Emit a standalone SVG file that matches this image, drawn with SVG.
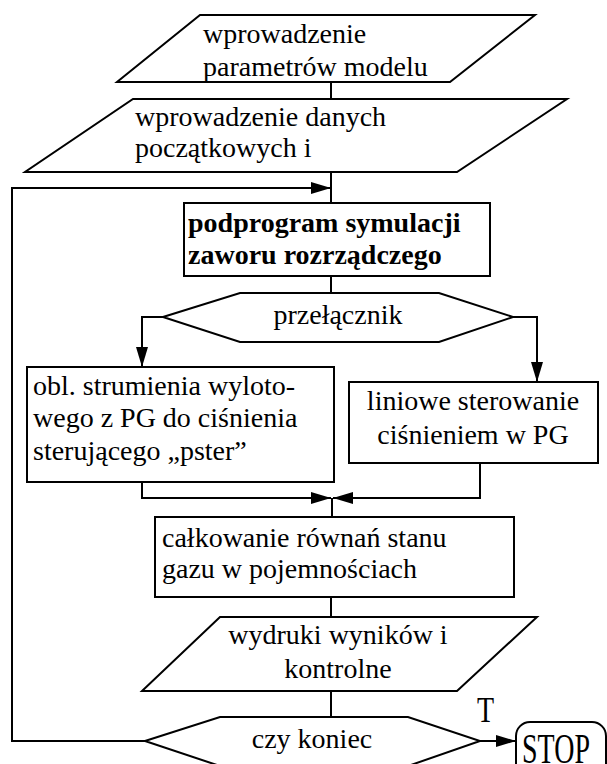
<svg xmlns="http://www.w3.org/2000/svg" width="607" height="764" viewBox="0 0 607 764">
<style>
.s{fill:#fff;stroke:#000;stroke-width:2}
.c{fill:none;stroke:#000;stroke-width:2}
text{font-family:"Liberation Serif","Times New Roman",serif;font-size:28px;fill:#000}
.b{font-weight:bold}
.m{text-anchor:middle}
</style>
<defs>
<marker id="ah" markerUnits="userSpaceOnUse" markerWidth="21" markerHeight="12" refX="20" refY="6" orient="auto">
<path d="M0,0 L20,6 L0,12 z" fill="#000"/>
</marker>
</defs>
<rect width="607" height="764" fill="#fff"/>
<g id="connectors">
<path class="c" d="M331,82 V99"/>
<path class="c" d="M331,172 V203"/>
<path class="c" d="M145,741 H12 V188 H331" marker-end="url(#ah)"/>
<path class="c" d="M331,276 V293"/>
<path class="c" d="M163,317 H142 V367" marker-end="url(#ah)"/>
<path class="c" d="M513,317 H537 V382" marker-end="url(#ah)"/>
<path class="c" d="M142,482 V498 H331" marker-end="url(#ah)"/>
<path class="c" d="M480,463 V498 H333" marker-end="url(#ah)"/>
<path class="c" d="M332,498 V517"/>
<path class="c" d="M331,597 V617"/>
<path class="c" d="M331,691 V717"/>
<path class="c" d="M480,741 H516" marker-end="url(#ah)"/>
</g>
<g id="n1">
<polygon class="s" points="200,15 535,15 450,82 117,82"/>
<text x="203" y="43">wprowadzenie</text>
<text x="203" y="76">parametrów modelu</text>
</g>
<g id="n2">
<polygon class="s" points="133,99 567,99 457,172 25,172"/>
<text x="135" y="126">wprowadzenie danych</text>
<text x="135" y="157">początkowych i</text>
</g>
<g id="n3">
<rect class="s" x="184" y="203" width="306" height="73"/>
<text class="b" x="188" y="232">podprogram symulacji</text>
<text class="b" x="188" y="264">zaworu rozrządczego</text>
</g>
<g id="n4">
<polygon class="s" points="163,317 240,293 439,293 513,317 439,342 240,342"/>
<text class="m" x="338" y="324">przełącznik</text>
</g>
<g id="n5">
<rect class="s" x="27" y="367" width="307" height="115"/>
<text x="33" y="395">obl. strumienia wyloto-</text>
<text x="33" y="427">wego z PG do ciśnienia</text>
<text x="33" y="460">sterującego „pster”</text>
</g>
<g id="n6">
<rect class="s" x="349" y="382" width="249" height="81"/>
<text class="m" x="473" y="410">liniowe sterowanie</text>
<text class="m" x="473" y="444">ciśnieniem w PG</text>
</g>
<g id="n7">
<rect class="s" x="155" y="517" width="359" height="80"/>
<text x="162" y="547">całkowanie równań stanu</text>
<text x="162" y="578">gazu w pojemnościach</text>
</g>
<g id="n8">
<polygon class="s" points="220,617 537,617 457,691 142,691"/>
<text class="m" x="338" y="644">wydruki wyników i</text>
<text class="m" x="338" y="678">kontrolne</text>
</g>
<g id="n9">
<polygon class="s" points="145,741 220,717 408,717 480,741 408,766 220,766"/>
<text class="m" x="312" y="748">czy koniec</text>
</g>
<g id="n10">
<rect class="s" x="516" y="722" width="90" height="60" rx="14" ry="14"/>
<text transform="translate(522,763) scale(1,1.5)" font-size="27">STOP</text>
</g>
<text transform="translate(477,722) scale(1,1.3)" font-size="25">T</text>
</svg>
